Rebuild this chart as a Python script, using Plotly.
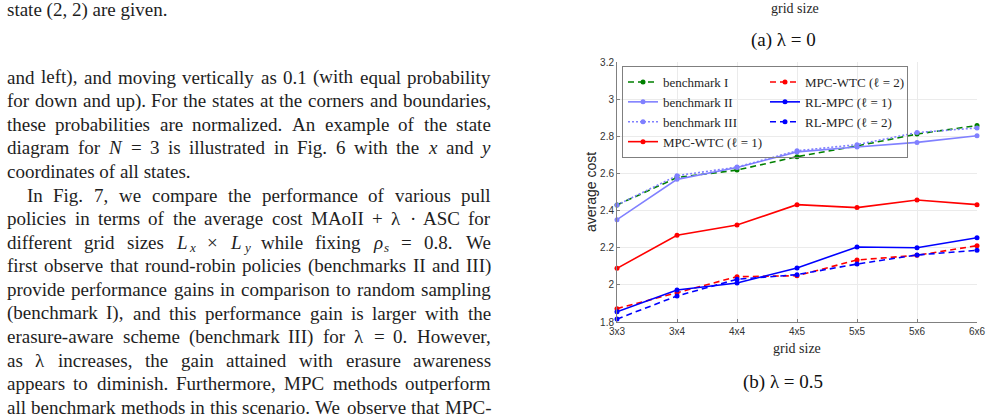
import re
import plotly.graph_objects as go

# ---------------- chart data ----------------
categories = ["3x3", "3x4", "4x4", "4x5", "5x5", "5x6", "6x6"]
benchmark_1 = [2.430, 2.578, 2.618, 2.690, 2.748, 2.812, 2.858]
benchmark_2 = [2.351, 2.568, 2.632, 2.716, 2.742, 2.767, 2.803]
benchmark_3 = [2.430, 2.588, 2.634, 2.722, 2.755, 2.820, 2.845]
mpc_wtc_1 = [2.089, 2.267, 2.322, 2.432, 2.416, 2.457, 2.432]
mpc_wtc_2 = [1.872, 1.956, 2.044, 2.049, 2.134, 2.159, 2.211]
rl_mpc_1 = [1.855, 1.972, 2.010, 2.091, 2.204, 2.200, 2.254]
rl_mpc_2 = [1.816, 1.940, 2.030, 2.055, 2.112, 2.161, 2.186]
y_ticks = [1.8, 2.0, 2.2, 2.4, 2.6, 2.8, 3.0, 3.2]
y_tick_text = ["1.8", "2", "2.2", "2.4", "2.6", "2.8", "3", "3.2"]
series_names = ["benchmark I", "benchmark II", "benchmark III", "MPC-WTC (ℓ = 1)",
                "MPC-WTC (ℓ = 2)", "RL-MPC (ℓ = 1)", "RL-MPC (ℓ = 2)"]
series_values = [benchmark_1, benchmark_2, benchmark_3, mpc_wtc_1, mpc_wtc_2, rl_mpc_1, rl_mpc_2]

# ---------------- page text ----------------
# "<i>..</i>" = italic token, "_" introduces a subscript
body_lines = [
    "and left), and moving vertically as 0.1 (with equal probability",
    "for down and up). For the states at the corners and boundaries,",
    "these probabilities are normalized. An example of the state",
    "diagram for <i>N</i> = 3 is illustrated in Fig. 6 with the <i>x</i> and <i>y</i>",
    "coordinates of all states.",
    "In Fig. 7, we compare the performance of various pull",
    "policies in terms of the average cost MAoII + λ · ASC for",
    "different grid sizes <i>L_x</i> × <i>L_y</i> while fixing <i>ρ_s</i> = 0.8. We",
    "first observe that round-robin policies (benchmarks II and III)",
    "provide performance gains in comparison to random sampling",
    "(benchmark I), and this performance gain is larger with the",
    "erasure-aware scheme (benchmark III) for λ = 0. However,",
    "as λ increases, the gain attained with erasure awareness",
    "appears to diminish. Furthermore, MPC methods outperform",
    "all benchmark methods in this scenario. We observe that MPC-",
]
justified = [True, True, True, True, False, True, True, True, True, True, True, True, True, True, True]
indent = [0, 0, 0, 0, 0, 20, 0, 0, 0, 0, 0, 0, 0, 0, 0]

# ---------------- geometry ----------------
W, H = 991, 418
PL, PT, PW, PH = 617, 62, 360, 260


def px(x):
    return (x - PL) / PW


def py(y):
    return (PT + PH - y) / PH


TIMES = {' ': 250, '(': 333, ')': 333, ',': 250, '-': 333, '.': 250, '+': 564, '=': 564,
         '·': 250, '×': 564, 'λ': 550, 'ρ': 540,
         'A': 722, 'B': 667, 'C': 667, 'D': 722, 'E': 611, 'F': 556, 'G': 722, 'H': 722,
         'I': 333, 'J': 389, 'K': 722, 'L': 611, 'M': 889, 'N': 722, 'O': 722, 'P': 556,
         'Q': 722, 'R': 667, 'S': 556, 'T': 611, 'U': 722, 'V': 722, 'W': 944, 'X': 722,
         'Y': 722, 'Z': 611,
         'a': 444, 'b': 500, 'c': 444, 'd': 500, 'e': 444, 'f': 333, 'g': 500, 'h': 500,
         'i': 278, 'j': 278, 'k': 500, 'l': 278, 'm': 778, 'n': 500, 'o': 500, 'p': 500,
         'q': 500, 'r': 333, 's': 389, 't': 278, 'u': 500, 'v': 500, 'w': 722, 'x': 500,
         'y': 500, 'z': 444}

FS = 19
SUB_FS = 13
SERIF = "Liberation Serif"
SANS = "Liberation Sans"


def plain_width(s, fs):
    return sum(TIMES.get(c, 500) for c in s) * fs / 1000.0


def parse(tok):
    italic = tok.startswith("<i>")
    t = re.sub(r"</?i>", "", tok)
    if "_" in t:
        main, sub = t.split("_", 1)
    else:
        main, sub = t, ""
    return main, sub, italic


def est_width(tok):
    main, sub, _ = parse(tok)
    return plain_width(main, FS) + (plain_width(sub, SUB_FS) + 1 if sub else 0)


def text_ann(txt, x, y, anchor, size, italic):
    return dict(text=txt, x=px(x), y=py(y), xref="paper", yref="paper",
                xanchor=anchor, yanchor="middle", showarrow=False, borderpad=0, borderwidth=0,
                font=dict(family=SERIF, size=size, color="#1e1e1e",
                          style="italic" if italic else "normal"))


def word(tok, x, y):
    main, sub, italic = parse(tok)
    out = [text_ann(main, x, y, "left", FS, italic)]
    if sub:
        out.append(text_ann(sub, x + plain_width(main, FS) + 1, y + 5, "left", SUB_FS, italic))
    return out


LEFT, RIGHT = 7, 491
annotations = [text_ann("state (2, 2) are given.", LEFT, 10, "left", FS, False)]

for i, line in enumerate(body_lines):
    yc = 77 + 23.6 * i
    left = LEFT + indent[i]
    if not justified[i]:
        annotations.append(text_ann(line, left, yc, "left", FS, False))
        continue
    toks = line.split(" ")
    widths = [est_width(t) for t in toks]
    gap = (RIGHT - left - sum(widths)) / (len(toks) - 1)
    xcur = left
    for j, t in enumerate(toks):
        if j == len(toks) - 1 and "_" not in t:
            annotations.append(text_ann(re.sub(r"</?i>", "", t), RIGHT, yc, "right", FS,
                                        t.startswith("<i>")))
        else:
            annotations += word(t, xcur, yc)
        xcur += widths[j] + gap

# captions & axis titles
annotations += [
    dict(text="grid size", x=px(795), y=py(8), xref="paper", yref="paper", xanchor="center",
         yanchor="middle", showarrow=False, font=dict(family=SERIF, size=14, color="#262626")),
    dict(text="(a) λ = 0", x=px(783), y=py(40), xref="paper", yref="paper", xanchor="center",
         yanchor="middle", showarrow=False, font=dict(family=SERIF, size=19, color="#111")),
    dict(text="grid size", x=px(797), y=py(348), xref="paper", yref="paper", xanchor="center",
         yanchor="middle", showarrow=False, font=dict(family=SERIF, size=14, color="#262626")),
    dict(text="(b) λ = 0.5", x=px(783), y=py(382), xref="paper", yref="paper", xanchor="center",
         yanchor="middle", showarrow=False, font=dict(family=SERIF, size=19, color="#111")),
    dict(text="average cost", x=px(591), y=py(192), xref="paper", yref="paper", xanchor="center",
         yanchor="middle", textangle=-90, showarrow=False, font=dict(family=SANS, size=14, color="#262626")),
]

# ---------------- traces ----------------
styles = [
    dict(color="#008000", dash="6px,4px", rank=1),
    dict(color="#8080ff", dash="solid", rank=3),
    dict(color="#8080ff", dash="2px,2px", rank=5),
    dict(color="#ff0000", dash="solid", rank=7),
    dict(color="#ff0000", dash="6px,4px", rank=2),
    dict(color="#0000ff", dash="solid", rank=4),
    dict(color="#0000ff", dash="6px,4px", rank=6),
]

fig = go.Figure()
for name, vals, st in zip(series_names, series_values, styles):
    fig.add_trace(go.Scatter(
        x=categories, y=vals, name=name, mode="lines+markers",
        line=dict(color=st["color"], width=1.6, dash=st["dash"]),
        marker=dict(color=st["color"], size=5, symbol="circle"),
        legendrank=st["rank"], cliponaxis=False,
    ))

AX = "#808080"
fig.update_layout(
    width=W, height=H, autosize=False,
    margin=dict(l=PL, r=W - PL - PW, t=PT, b=H - PT - PH, pad=0),
    paper_bgcolor="white", plot_bgcolor="white",
    showlegend=True,
    legend=dict(orientation="h", x=px(622), y=py(66), xanchor="left", yanchor="top",
                bgcolor="rgba(255,255,255,0)", bordercolor="#7f7f7f", borderwidth=1,
                font=dict(family=SERIF, size=13, color="#262626"),
                entrywidth=97, entrywidthmode="pixels", itemwidth=30, tracegroupgap=0),
    xaxis=dict(type="category", range=[0, len(categories) - 1], showgrid=True, gridcolor="#ebebeb",
               gridwidth=1, showline=True, linecolor=AX, linewidth=1, ticks="inside", ticklen=3,
               tickcolor=AX, tickfont=dict(family=SANS, size=10, color="#333"), zeroline=False,
               fixedrange=True, automargin=False),
    yaxis=dict(range=[1.8, 3.2], tickvals=y_ticks, ticktext=y_tick_text, showgrid=True,
               gridcolor="#ebebeb", gridwidth=1, showline=True, linecolor=AX, linewidth=1,
               ticks="inside", ticklen=3, tickcolor=AX,
               tickfont=dict(family=SANS, size=10, color="#333"), zeroline=False,
               fixedrange=True, automargin=False),
    annotations=annotations,
)

fig.write_html("out.html")
